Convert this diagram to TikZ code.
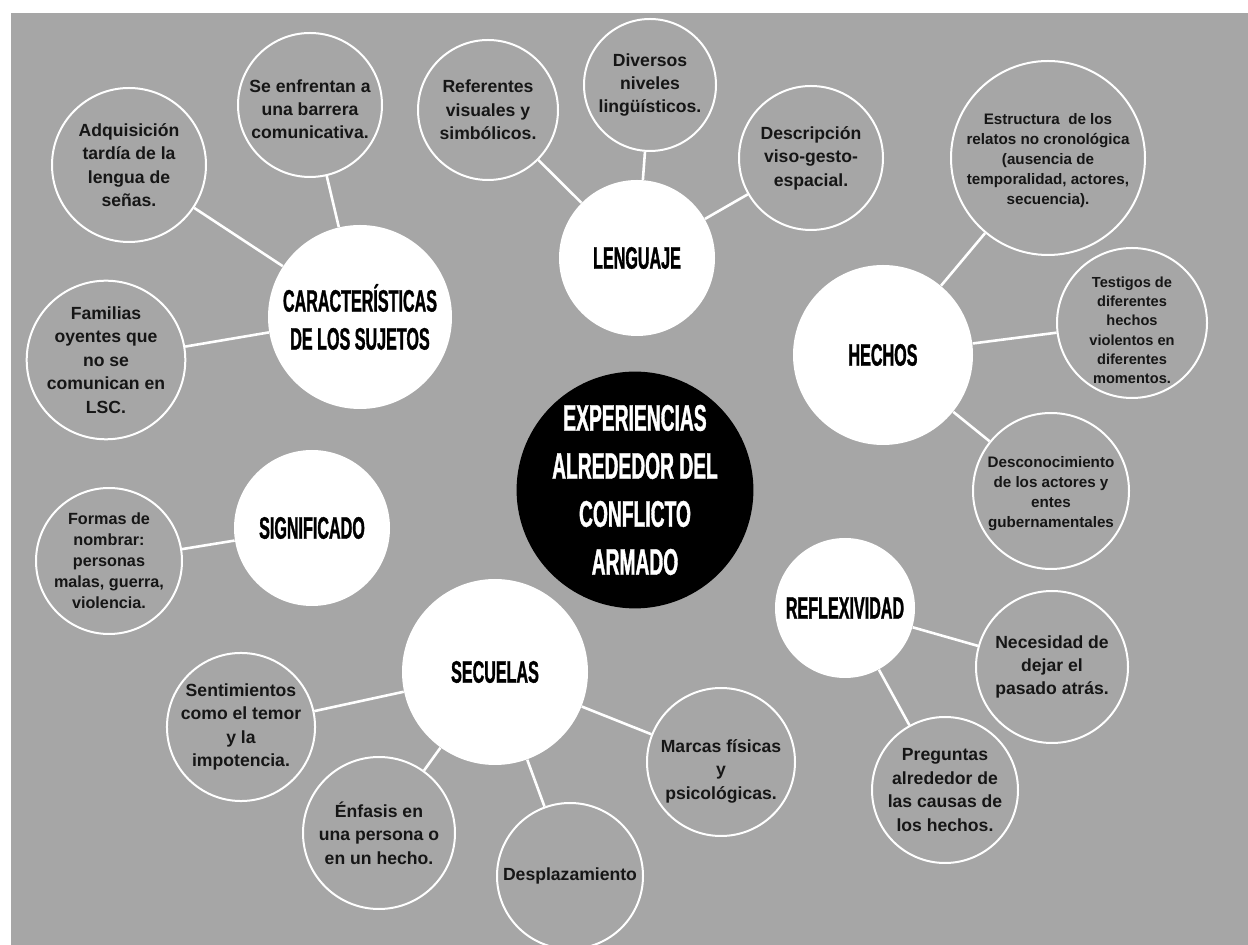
\documentclass[tikz,border=0pt]{standalone}
\usepackage{fontspec}
\setmainfont{Liberation Sans}
\newfontfamily\hubfont[FakeStretch=0.52,FakeBold=1]{Liberation Sans}
\usetikzlibrary{positioning}
\definecolor{bggray}{HTML}{A6A6A6}
\definecolor{inkgray}{HTML}{161616}
% extra height on a first line, to push a text block down in its circle
\newcommand{\dropby}[1]{\rule{0pt}{#1}}

\begin{document}
\begin{tikzpicture}[
				x=0.5pt,y=-0.5pt,
				hub/.style={fill=white,circle,inner sep=0pt,align=center,text=black,font=\hubfont\bfseries\fontsize{15.5}{19}\selectfont},
				core/.style={hub,fill=black,text=white,font=\hubfont\bfseries\fontsize{18.5}{24}\selectfont},
				leaf/.style={draw=white,line width=1pt,fill=bggray,circle,inner sep=0pt,align=center,text=inkgray,font=\bfseries\fontsize{8.8}{11.7}\selectfont},
				small/.style={font=\bfseries\fontsize{7.6}{10}\selectfont},
				link/.style={draw=white,line width=1.3pt}
			]
			\useasboundingbox (0,0) rectangle (1248,945);
			\fill[bggray] (11,13) rectangle (1248,945);

			% main topics
			\node[core,minimum size=117pt] (core) at (635,490) {EXPERIENCIAS\\ALREDEDOR DEL\\CONFLICTO\\ARMADO};
			\node[hub,minimum size=92pt] (carac) at (360,317) {CARACTERÍSTICAS\\DE LOS SUJETOS};
			\node[hub,minimum size=78pt] (leng) at (637,258) {LENGUAJE};
			\node[hub,minimum size=90pt] (hechos) at (883,355) {HECHOS};
			\node[hub,minimum size=78pt] (signif) at (312,528) {SIGNIFICADO};
			\node[hub,minimum size=93pt] (secuelas) at (495,672) {SECUELAS};
			\node[hub,minimum size=70pt] (reflex) at (845,608) {REFLEXIVIDAD};

			% details
			\node[leaf,minimum size=77pt] (adq) at (129,165) {Adquisición\\tardía de la\\lengua de\\señas.};
			\node[leaf,minimum size=72pt] (barrera) at (310,105) {\dropby{10.5pt}Se enfrentan a\\una barrera\\comunicativa.};
			\node[leaf,minimum size=76pt] (familias) at (106,360) {Familias\\oyentes que\\no se\\comunican en\\LSC.};
			\node[leaf,minimum size=70pt] (referentes) at (488,110) {Referentes\\visuales y\\simbólicos.};
			\node[leaf,minimum size=66pt] (niveles) at (650,85) {Diversos\\niveles\\lingüísticos.};
			\node[leaf,minimum size=72pt] (descripcion) at (811,158) {Descripción\\viso-gesto-\\espacial.};
			\node[leaf,small,minimum size=97pt] (relatos) at (1048,158) {\dropby{8pt}Estructura\ \ de los\\relatos no cronológica\\(ausencia de\\temporalidad, actores,\\secuencia).};
			\node[leaf,minimum size=75pt,font=\bfseries\fontsize{7.3}{9.6}\selectfont] (testigos) at (1132,323) {\dropby{12.5pt}Testigos de\\diferentes\\hechos\\violentos en\\diferentes\\momentos.};
			\node[leaf,small,minimum size=78pt] (actores) at (1051,491) {\dropby{8.5pt}Desconocimiento\\de los actores y\\entes\\gubernamentales};
			\node[leaf,minimum size=73pt,font=\bfseries\fontsize{8.1}{10.5}\selectfont] (formas) at (109,561) {Formas de\\nombrar:\\personas\\malas, guerra,\\violencia.};
			\node[leaf,minimum size=74pt] (temor) at (241,727) {Sentimientos\\como el temor\\y la\\impotencia.};
			\node[leaf,minimum size=76pt] (enfasis) at (379,833) {Énfasis en\\una persona o\\en un hecho.};
			\node[leaf,minimum size=73pt] (desplaz) at (570,876) {Desplazamiento};
			\node[leaf,minimum size=74pt] (marcas) at (721,762) {\dropby{15.5pt}Marcas físicas\\y\\psicológicas.};
			\node[leaf,minimum size=76pt] (pasado) at (1052,667) {Necesidad de\\dejar el\\pasado atrás.};
			\node[leaf,minimum size=73pt] (causas) at (945,790) {Preguntas\\alrededor de\\las causas de\\los hechos.};

			% connectors
			\draw[link] (carac) -- (adq);
			\draw[link] (carac) -- (barrera);
			\draw[link] (carac) -- (familias);
			\draw[link] (leng) -- (referentes);
			\draw[link] (leng) -- (niveles);
			\draw[link] (leng) -- (descripcion);
			\draw[link] (hechos) -- (relatos);
			\draw[link] (hechos) -- (testigos);
			\draw[link] (hechos) -- (actores);
			\draw[link] (signif) -- (formas);
			\draw[link] (secuelas) -- (temor);
			\draw[link] (secuelas) -- (enfasis);
			\draw[link] (secuelas) -- (desplaz);
			\draw[link] (secuelas) -- (marcas);
			\draw[link] (reflex) -- (pasado);
			\draw[link] (reflex) -- (causas);
		\end{tikzpicture}
\end{document}
